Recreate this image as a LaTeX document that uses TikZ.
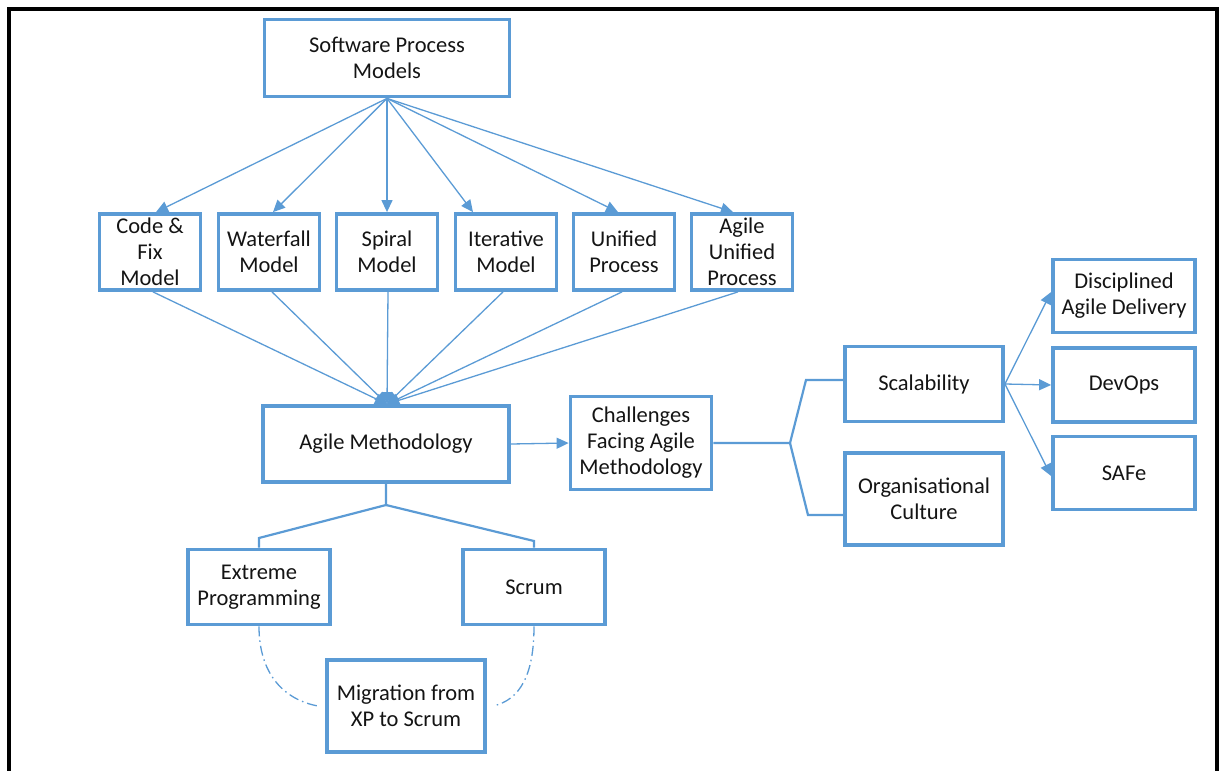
\documentclass[tikz,border=0pt]{standalone}
\usepackage{fontspec}
\setmainfont{Carlito}
\usetikzlibrary{arrows.meta,calc}
\definecolor{bl}{RGB}{91,155,213}
\definecolor{tx}{RGB}{20,20,20}
\begin{document}
\begin{tikzpicture}[x=1pt,y=-1pt,
  box/.style={draw=bl, line width=3.8pt, align=center, inner sep=0pt, text=tx,
    font=\fontsize{22.5}{26}\selectfont},
  mb/.style={box, minimum width=101pt, minimum height=76pt},
  ln/.style={draw=bl, line width=1.3pt},
  tln/.style={draw=bl, line width=2.2pt},
  arr/.style={ln, -{Triangle[length=12pt,width=11pt]}},
  dd/.style={ln, dash pattern=on 10pt off 4pt on 1.5pt off 4pt},
  frame/.style={draw=black, line width=4pt}]
\useasboundingbox (0,0) rectangle (1221,771);
\draw[frame] (9,775) -- (9,9) -- (1217,9) -- (1217,775);

\node[box, minimum width=245pt, minimum height=77pt] (spm) at (387,58) {Software Process\\Models};
\node[mb] (cf) at (150,252) {Code \&\\Fix\\Model};
\node[mb] (wf) at (269,252) {Waterfall\\Model};
\node[mb] (sp) at (387,252) {Spiral\\Model};
\node[mb] (it) at (506,252) {Iterative\\Model};
\node[mb] (up) at (624,252) {Unified\\Process};
\node[mb] (aup) at (742,252) {Agile\\Unified\\Process};

\node[box, minimum width=246pt, minimum height=76pt] (am) at (386,444) {Agile Methodology};
\node[box, minimum width=141pt, minimum height=93pt] (ch) at (641,443) {Challenges\\Facing Agile\\Methodology};
\node[box, minimum width=158pt, minimum height=75pt] (sc) at (924,384) {Scalability};
\node[box, minimum width=158pt, minimum height=92pt] (oc) at (924,499) {Organisational\\Culture};
\node[box, minimum width=142pt, minimum height=73pt] (dad) at (1124,296) {Disciplined\\Agile Delivery};
\node[box, minimum width=142pt, minimum height=74pt] (dev) at (1124,385) {DevOps};
\node[box, minimum width=142pt, minimum height=73pt] (safe) at (1124,473) {SAFe};
\node[box, minimum width=142pt, minimum height=75pt] (xp) at (259,587) {Extreme\\Programming};
\node[box, minimum width=142pt, minimum height=75pt] (scr) at (534,587) {Scrum};
\node[box, minimum width=158pt, minimum height=92pt] (mig) at (406,706) {Migration from\\XP to Scrum};

% top fan-out
\draw[arr] (spm.south) -- ([xshift=6pt]cf.north);
\draw[arr] (spm.south) -- ([xshift=4pt]wf.north);
\draw[arr] (spm.south) -- (sp.north);
\draw[arr] (spm.south) -- ([xshift=-33pt]it.north);
\draw[arr] (spm.south) -- ([xshift=-6pt]up.north);
\draw[arr] (spm.south) -- ([xshift=-9pt]aup.north);

% fan-in
\coordinate (amt) at ([xshift=1pt]am.north);
\foreach \n/\s in {cf/3, wf/3, sp/1, it/-3, up/-2, aup/-4}
  \draw[arr] ([xshift=\s pt]\n.south) -- (amt);

% agile -> challenges
\draw[arr] (am.east) -- (ch.west);

% bracket to scalability / culture
\coordinate (b0) at (790,443);
\draw[tln] (ch.east |- b0) -- (b0) -- (806,380) -- (sc.west |- 0,380);
\draw[tln] (b0) -- (808,515) -- (oc.west |- 0,515);

% scalability -> three
\draw[arr] (sc.east) -- ([yshift=4pt]dad.west);
\draw[arr] (sc.east) -- (dev.west);
\draw[arr] (sc.east) -- ([yshift=-3pt]safe.west);

% tree to XP / Scrum
\coordinate (t0) at (386,505);
\draw[tln] (am.south) -- (t0) -- (259,538) -- (xp.north);
\draw[tln] (t0) -- (534,541) -- (scr.north);

% dash-dot curves
\draw[dd] (xp.south) .. controls (259,675) and (285,700) .. (318,706);
\draw[dd] (scr.south) .. controls (534,675) and (520,700) .. (493,706);
\end{tikzpicture}
\end{document}
